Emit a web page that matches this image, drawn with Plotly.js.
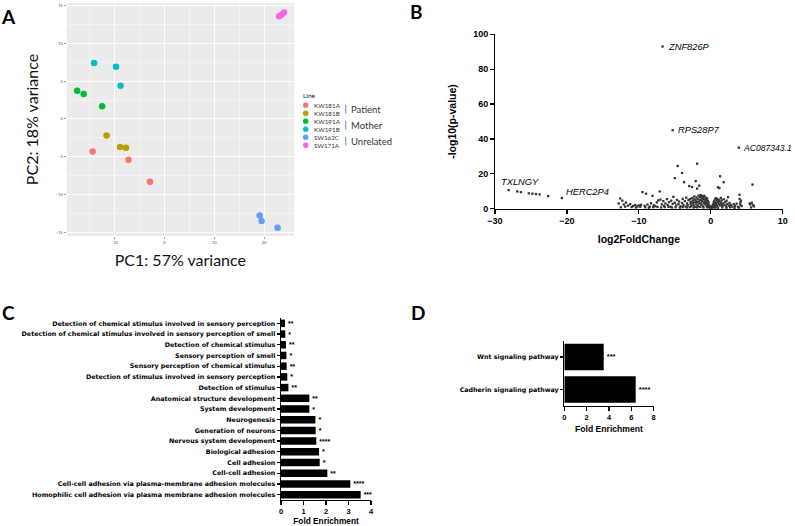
<!DOCTYPE html>
<html><head><meta charset="utf-8">
<script src="https://cdn.plot.ly/plotly-3.0.1.min.js"></script>
<style>html,body{margin:0;padding:0;background:#fff}#chart{width:795px;height:526px}</style>
</head><body><div id="chart"></div>
<script>
// ---------- Panel A: PCA ----------
const pcaLines = ['KW181A','KW181B','KW191A','KW191B','SW162C','SW171A'];
const pcaColors = ['#F8766D','#B79F00','#00BA38','#00BFC4','#619CFF','#F564E3'];
const pc1KW181A = [-14.4,-7.2,-2.9], pc2KW181A = [-4.3,-5.4,-8.3];
const pc1KW181B = [-11.6,-8.9,-7.7], pc2KW181B = [-2.2,-3.7,-3.8];
const pc1KW191A = [-17.5,-16.2,-12.5], pc2KW191A = [3.75,3.3,1.7];
const pc1KW191B = [-14.1,-9.7,-8.8], pc2KW191B = [7.4,6.9,4.4];
const pc1SW162C = [19.1,19.5,22.7], pc2SW162C = [-12.8,-13.5,-14.4];
const pc1SW171A = [23.0,23.5,24.0], pc2SW171A = [13.6,13.8,14.1];
const groupNames = ['Patient','Mother','Unrelated'];

// ---------- Panel B: volcano ----------
const geneNames = ['ZNF826P','RPS28P7','AC087343.1','TXLNGY','HERC2P4'];
const geneLFC = [-6.7,-5.3,3.9,-28.1,-20.7];
const geneP = [93,45,35,10.7,6.1];
const volcPoints = [
 [-26.9,9.9],[-26.4,9.5],[-25.3,8.8],[-24.8,8.6],[-24.3,8.4],[-23.8,8.2],[-22.6,7.2],
 [-12.8,3.0],[-12.6,5.9],[-12.3,4.6],[-12.1,2.4],[-11.8,3.5],[-11.5,1.8],[-11.2,2.6],[-10.8,1.5],
 [-10.5,2.1],[-10.2,1.3],[-10.0,1.9],[-9.7,2.2],[-9.5,9.5],[-9.2,1.6],[-9.0,8.6],[-8.8,2.4],
 [-8.5,1.2],[-8.3,3.1],[-8.1,7.4],[-7.9,2.0],[-7.7,1.4],[-7.5,3.6],[-7.3,4.8],[-7.1,9.9],
 [-7.0,5.2],[-6.8,2.5],[-6.6,4.3],[-6.5,1.6],[-6.3,3.0],[-6.1,5.5],[-6.0,2.2],[-5.8,3.8],
 [-5.6,1.1],[-5.5,4.6],[-5.3,2.8],[-5.2,6.8],[-5.0,17.5],[-5.0,3.4],[-4.8,1.9],[-4.7,5.0],
 [-4.6,24.5],[-4.5,2.6],[-4.4,4.1],[-4.2,1.4],[-4.0,20.5],[-4.0,3.3],[-3.9,5.6],[-3.8,2.1],
 [-3.7,15.2],[-3.6,4.4],[-3.5,1.2],[-3.4,6.3],[-3.3,3.0],[-3.2,2.0],[-3.1,4.9],[-3.0,13.0],
 [-2.9,5.5],[-2.8,2.7],[-2.8,3.9],[-2.7,1.5],[-2.6,6.1],[-2.6,12.4],[-2.5,3.2],[-2.5,4.6],
 [-2.4,2.0],[-2.3,5.3],[-2.3,7.0],[-2.2,1.1],[-2.2,3.6],[-2.1,15.8],[-2.1,4.8],[-2.0,2.5],
 [-2.0,6.4],[-1.9,25.8],[-1.9,3.8],[-1.9,11.5],[-1.8,5.7],[-1.8,1.6],[-1.7,7.5],[-1.7,4.2],
 [-1.6,2.9],[-1.6,13.2],[-1.5,6.8],[-1.5,5.0],[-1.4,3.4],[-1.4,7.9],[-1.3,2.2],[-1.3,6.0],
 [-1.2,4.5],[-1.2,7.2],[-1.1,1.3],[-1.1,5.6],[-1.0,3.1],[-1.0,6.6],[-0.9,4.0],[-0.9,7.4],
 [-0.8,2.6],[-0.8,5.2],[-0.7,6.3],[-0.7,3.7],[-0.6,1.8],[-0.6,4.9],[-0.5,5.8],[-0.5,2.9],
 [-0.4,4.3],[-0.4,1.2],[-0.3,3.5],[-0.3,2.2],[-0.2,1.6],[-0.2,0.9],[-0.1,0.6],[-0.1,1.1],
 [0.1,0.7],[0.2,1.4],[0.3,2.3],[0.4,3.6],[0.4,1.1],[0.5,4.4],[0.5,2.7],[0.6,5.3],[0.6,1.7],
 [0.7,3.2],[0.7,6.0],[0.8,2.1],[0.8,4.7],[0.9,5.6],[0.9,1.3],[1.0,3.9],[1.0,12.3],[1.1,2.6],
 [1.1,5.1],[1.2,11.8],[1.2,4.2],[1.3,18.6],[1.3,1.9],[1.4,3.5],[1.4,6.2],[1.5,2.4],[1.5,4.8],
 [1.6,1.5],[1.7,3.0],[1.8,15.2],[1.8,5.4],[1.9,2.2],[2.0,3.8],[2.1,1.4],[2.2,4.6],[2.3,2.7],
 [2.4,6.6],[2.5,1.8],[2.6,3.3],[2.8,2.1],[3.0,1.2],[3.2,2.6],[3.4,1.6],[3.6,2.9],[3.8,1.0],
 [4.0,8.0],[4.0,5.6],[4.1,3.5],[4.1,2.3],[4.2,4.6],[4.3,1.5],[5.4,3.0],[5.5,2.4],[5.7,3.4],
 [5.8,13.8],[5.9,2.0],[6.0,1.3],
 [-12.5,0.8],[-11.9,1.2],[-11.0,0.9],[-10.4,0.7],[-9.8,1.1],[-9.1,0.8],[-8.6,0.6],[-8.0,0.9],
 [-7.4,1.0],[-6.9,0.7],[-6.4,0.9],[-5.9,1.1],[-5.4,0.7],[-4.9,0.8],[-4.3,0.6],[-3.9,0.9],
 [-3.3,0.7],[-2.9,0.9],[-2.4,0.6],[-1.9,0.8],[-1.5,1.0],[-1.0,0.7],[-0.5,0.8],[0.2,0.4],
 [0.6,0.6],[1.0,0.5],[1.6,0.7],[2.2,0.6],[2.7,0.8],[3.3,0.5],[3.9,0.6],[5.6,0.7]
];

// ---------- Panel C: GO terms ----------
const goTerms = [
 'Detection of chemical stimulus involved in sensory perception',
 'Detection of chemical stimulus involved in sensory perception of smell',
 'Detection of chemical stimulus',
 'Sensory perception of smell',
 'Sensory perception of chemical stimulus',
 'Detection of stimulus involved in sensory perception',
 'Detection of stimulus',
 'Anatomical structure development',
 'System development',
 'Neurogenesis',
 'Generation of neurons',
 'Nervous system development',
 'Biological adhesion',
 'Cell adhesion',
 'Cell-cell adhesion',
 'Cell-cell adhesion via plasma-membrane adhesion molecules',
 'Homophilic cell adhesion via plasma membrane adhesion molecules'
];
const goFold = [0.18,0.19,0.22,0.24,0.25,0.28,0.33,1.26,1.26,1.53,1.54,1.57,1.69,1.72,2.06,3.08,3.54];
const goSig = ['**','*','**','*','**','*','**','**','*','*','*','****','*','*','**','****','***'];

// ---------- Panel D: pathways ----------
const pathTerms = ['Wnt signaling pathway','Cadherin signaling pathway'];
const pathFold = [3.53,6.39];
const pathSig = ['***','****'];

// ---------- helpers ----------
const W = 795, H = 526;
const px = x => x / W, py = y => 1 - y / H;
const ARIAL = 'Liberation Sans, Arial, sans-serif';
const WIDE = 'DejaVu Sans, Liberation Sans, sans-serif';
const CAL = 'Lato, Open Sans, sans-serif';

const pcaX = [pc1KW181A,pc1KW181B,pc1KW191A,pc1KW191B,pc1SW162C,pc1SW171A];
const pcaY = [pc2KW181A,pc2KW181B,pc2KW191A,pc2KW191B,pc2SW162C,pc2SW171A];

const traces = [];
pcaLines.forEach((name, i) => {
  traces.push({type:'scatter', mode:'markers', name, x:pcaX[i], y:pcaY[i],
    xaxis:'x', yaxis:'y', marker:{color:pcaColors[i], size:6.5}, showlegend:false, cliponaxis:false});
});
traces.push({type:'scatter', mode:'markers', x:volcPoints.map(p=>p[0]), y:volcPoints.map(p=>p[1]),
  xaxis:'x2', yaxis:'y2', marker:{color:'#333', size:2.3, symbol:'square'}, showlegend:false, cliponaxis:false});
traces.push({type:'scatter', mode:'markers', x:geneLFC, y:geneP,
  xaxis:'x2', yaxis:'y2', marker:{color:'#333', size:2.3, symbol:'square'}, showlegend:false, cliponaxis:false});
traces.push({type:'bar', orientation:'h', x:goFold, y:goTerms, xaxis:'x3', yaxis:'y3', width:0.7,
  marker:{color:'#000'}, text:goSig, textposition:'outside', constraintext:'none', cliponaxis:false,
  textfont:{family:ARIAL, size:7, color:'#000', weight:'bold'}, showlegend:false});
traces.push({type:'bar', orientation:'h', x:pathFold, y:pathTerms, xaxis:'x4', yaxis:'y4', width:0.82,
  marker:{color:'#000'}, text:pathSig, textposition:'outside', constraintext:'none', cliponaxis:false,
  textfont:{family:ARIAL, size:7.5, color:'#000', weight:'bold'}, showlegend:false});

const gpAxis = (extra) => Object.assign({
  showline:true, linecolor:'#000', linewidth:1.4, ticks:'outside', ticklen:3.5, tickwidth:1.3,
  tickcolor:'#000', showgrid:false, zeroline:false,
  tickfont:{family:ARIAL, size:9, color:'#000', weight:'bold'}
}, extra);

const annotations = [];
const shapes = [];
// panel letters
[['A',8,16],['B',416,11],['C',8,312],['D',418,312]].forEach(([t,x,y]) => {
  annotations.push({text:t, xref:'paper', yref:'paper', x:px(x), y:py(y), showarrow:false,
    xanchor:'center', yanchor:'middle', font:{family:CAL, size:19, color:'#000', weight:'bold'}});
});
// panel A background
shapes.push({type:'rect', xref:'paper', yref:'paper', x0:px(66.7), x1:px(294), y0:py(236), y1:py(3),
  fillcolor:'#EBEBEB', line:{width:0}, layer:'below'});
// panel A legend
annotations.push({text:'Line', xref:'paper', yref:'paper', x:px(301), y:py(95.5), showarrow:false,
  xanchor:'left', yanchor:'middle', font:{family:CAL, size:6.5, color:'#222'}});
pcaLines.forEach((name, i) => {
  const yc = 105.3 + 8 * i;
  shapes.push({type:'circle', xref:'paper', yref:'paper', x0:px(303), x1:px(308.4), y0:py(yc+2.7), y1:py(yc-2.7),
    fillcolor:pcaColors[i], line:{width:0}});
  annotations.push({text:name, xref:'paper', yref:'paper', x:px(312), y:py(yc), showarrow:false,
    xanchor:'left', yanchor:'middle', font:{family:CAL, size:6.3, color:'#333'}});
});
groupNames.forEach((g, i) => {
  const yc = 109.3 + 16 * i;
  shapes.push({type:'line', xref:'paper', yref:'paper', x0:px(345.7), x1:px(345.7), y0:py(yc-4.2), y1:py(yc+4.2),
    line:{color:'#7EA6DE', width:1.3}});
  annotations.push({text:g, xref:'paper', yref:'paper', x:px(349), y:py(yc+0.5), showarrow:false,
    xanchor:'left', yanchor:'middle', font:{family:CAL, size:9.5, color:'#333'}});
});
// gene labels
const geneShift = [[3,0],[3,0],[2,0],[-10,8],[2,6]];
const geneFont = [9.3,9.3,8.6,9.3,9.3];
geneNames.forEach((g, i) => {
  annotations.push({text:'<i>'+g+'</i>', xref:'x2', yref:'y2', x:geneLFC[i], y:geneP[i], showarrow:false,
    xanchor:'left', yanchor:'middle', xshift:geneShift[i][0], yshift:geneShift[i][1],
    font:{family:ARIAL, size:geneFont[i], color:'#000'}});
});

const layout = {
  width:W, height:H, margin:{l:0,r:0,t:0,b:0}, paper_bgcolor:'#fff', plot_bgcolor:'rgba(0,0,0,0)',
  showlegend:false,
  xaxis:{domain:[px(66.7),px(294)], range:[-19.6,26.0], anchor:'y', tickvals:[-10,0,10,20],
    ticks:'outside', ticklen:2, tickwidth:0.5, tickcolor:'#444', showline:false, zeroline:false,
    showgrid:true, gridcolor:'#fff', gridwidth:0.9,
    minor:{dtick:5, showgrid:true, gridcolor:'#fff', gridwidth:0.4},
    tickfont:{family:CAL, size:4, color:'#555'},
    title:{text:'PC1: 57% variance', standoff:11, font:{family:CAL, size:16, color:'#111'}}},
  yaxis:{domain:[py(236),py(3)], range:[-15.5,15.36], anchor:'x', tickvals:[-15,-10,-5,0,5,10,15],
    ticks:'outside', ticklen:2, tickwidth:0.5, tickcolor:'#444', showline:false, zeroline:false,
    showgrid:true, gridcolor:'#fff', gridwidth:0.9,
    minor:{dtick:2.5, showgrid:true, gridcolor:'#fff', gridwidth:0.4},
    tickfont:{family:CAL, size:4, color:'#555'},
    title:{text:'PC2: 18% variance', standoff:13, font:{family:CAL, size:16, color:'#111'}}},
  xaxis2:gpAxis({domain:[px(495),px(782.7)], range:[-30,10], anchor:'y2', tickvals:[-30,-20,-10,0,10],
    title:{text:'log2FoldChange', standoff:10, font:{family:ARIAL, size:10.5, color:'#000', weight:'bold'}}}),
  yaxis2:gpAxis({domain:[py(208.7),py(34.3)], range:[0,100], anchor:'x2', tickvals:[0,20,40,60,80,100],
    title:{text:'-log10(p-value)', standoff:14, font:{family:ARIAL, size:10.5, color:'#000', weight:'bold'}}}),
  xaxis3:gpAxis({domain:[px(281),px(371)], range:[0,4], anchor:'y3', tickvals:[0,1,2,3,4],
    tickfont:{family:ARIAL, size:7.5, color:'#000', weight:'bold'},
    title:{text:'Fold Enrichment', standoff:5, font:{family:ARIAL, size:8.3, color:'#000', weight:'bold'}}}),
  yaxis3:gpAxis({domain:[py(500),py(318)], anchor:'x3', autorange:'reversed', ticklen:3,
    tickfont:{family:WIDE, size:6.35, color:'#000', weight:'bold'}}),
  xaxis4:gpAxis({domain:[px(564.3),px(653.7)], range:[0,8], anchor:'y4', tickvals:[0,2,4,6,8],
    tickfont:{family:ARIAL, size:7.5, color:'#000', weight:'bold'},
    title:{text:'Fold Enrichment', standoff:5, font:{family:ARIAL, size:8.6, color:'#000', weight:'bold'}}}),
  yaxis4:gpAxis({domain:[py(405.7),py(340.7)], anchor:'x4', autorange:'reversed', ticklen:3,
    tickfont:{family:WIDE, size:6.3, color:'#000', weight:'bold'}}),
  annotations, shapes
};

Plotly.newPlot('chart', traces, layout, {staticPlot:true, displayModeBar:false});
</script></body></html>
